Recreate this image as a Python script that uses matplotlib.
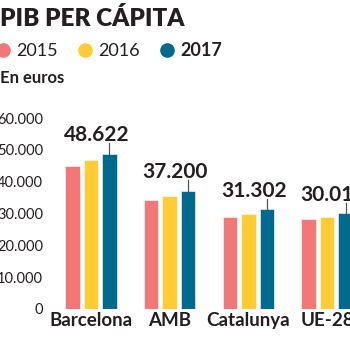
import matplotlib
matplotlib.use("Agg")
import matplotlib.pyplot as plt
from matplotlib.lines import Line2D

# Data
categories = ['Barcelona', 'AMB', 'Catalunya', 'UE-28']
years = ['2015', '2016', '2017']
v2015 = [45000, 34300, 28900, 28300]
v2016 = [46900, 35500, 29900, 28900]
v2017 = [48622, 37200, 31302, 30016]
labels2017 = ['48.622', '37.200', '31.302', '30.016']
yticks = [0, 10000, 20000, 30000, 40000, 50000, 60000]
ytick_labels = ['0', '10.000', '20.000', '30.000', '40.000', '50.000', '60.000']

colors = ['#F27777', '#FFCC33', '#006A8E']
dark = '#231F20'
plt.rcParams['font.family'] = ['Lato', 'DejaVu Sans']

fig = plt.figure(figsize=(3.5, 3.5), dpi=100)
ax = fig.add_axes([50 / 350, 41 / 350, 300 / 350, 191 / 350])

x = range(len(categories))
offs = [-0.235, 0, 0.235]
for vals, off, c in zip([v2015, v2016, v2017], offs, colors):
    ax.bar([i + off for i in x], vals, width=0.184, color=c, edgecolor='white', linewidth=0.4)

# value labels with leader line
for i, (v, lab) in enumerate(zip(v2017, labels2017)):
    ax.plot([i + offs[2], i + offs[2]], [v, v + 3400], color='#555555', lw=0.9)
    ax.text(i + 0.07, v + 4000, lab, ha='center', va='baseline',
            fontsize=15, fontweight='bold', color=dark)

ax.set_xlim(-0.521, 3.291)
ax.set_ylim(0, 60000)
ax.set_yticks(yticks)
ax.set_yticklabels(ytick_labels, fontsize=10.5, color=dark)
ax.set_xticks(list(x))
ax.set_xticklabels(categories, fontsize=13.5, fontweight='bold', color=dark)
ax.tick_params(axis='y', length=0, pad=5)
ax.tick_params(axis='x', length=0, pad=2)
for s in ax.spines.values():
    s.set_visible(False)

# title, legend, units
fig.text(0, 1 - 26 / 350, 'PIB PER CÁPITA', fontsize=17.5, fontweight='heavy',
         color=dark, ha='left', va='baseline')
leg_x = [3, 85, 167]
for xx, c, yr in zip(leg_x, colors, years):
    fig.add_artist(Line2D([xx / 350], [1 - 49.5 / 350], marker='o', ms=9.5,
                          color=c, linestyle='none', transform=fig.transFigure))
    fig.text((xx + 13) / 350, 1 - 55.5 / 350, yr, fontsize=13,
             fontweight='bold' if yr == '2017' else 'normal',
             color=dark, ha='left', va='baseline')
fig.text(0, 1 - 83 / 350, 'En euros', fontsize=12, fontweight='bold',
         color=dark, ha='left', va='baseline')

fig.savefig('out.png', dpi=100)
